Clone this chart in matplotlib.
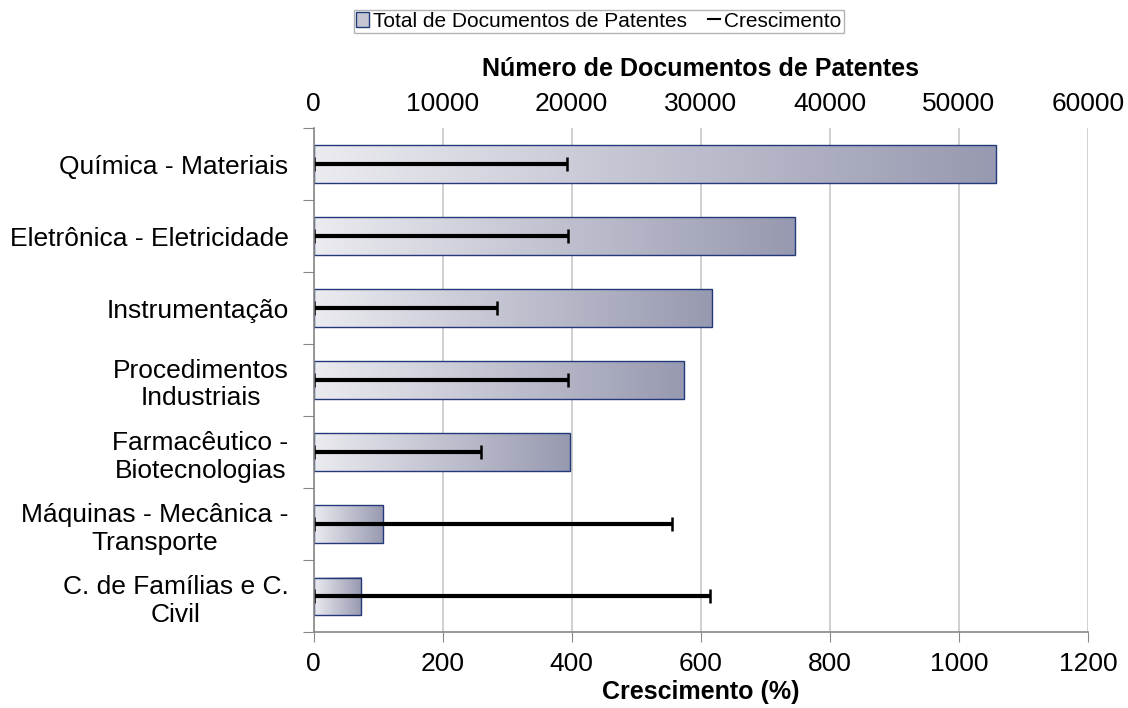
import numpy as np
import matplotlib
matplotlib.use("Agg")
import matplotlib.pyplot as plt
from matplotlib.patches import Patch, Rectangle
from matplotlib.lines import Line2D
from matplotlib.colors import LinearSegmentedColormap

plt.rcParams['font.family'] = ['Liberation Sans', 'DejaVu Sans']

# Data (top to bottom as in the chart)
categories = ["Química - Materiais", "Eletrônica - Eletricidade", "Instrumentação",
              "Procedimentos\nIndustriais", "Farmacêutico -\nBiotecnologias",
              "Máquinas - Mecânica -\nTransporte", "C. de Famílias e C.\nCivil"]
total_docs = [52900, 37300, 30900, 28700, 19900, 5350, 3650]
crescimento = [392, 394, 284, 394, 260, 555, 615]

n = len(categories)
ypos = np.arange(n)[::-1]  # first category on top
bar_h = 0.52

fig = plt.figure(figsize=(11.28, 7.08), dpi=100)
ax = fig.add_axes([0.278, 0.107, 0.6865, 0.712])
ax2 = ax.twiny()

# put the error bars axis above the bars axis
ax.set_zorder(ax2.get_zorder() + 1)
ax.patch.set_visible(False)

# gradient bars on the top (document count) axis
cmap = LinearSegmentedColormap.from_list("grad", ["#ebebf0", "#9799b0"])
grad = np.linspace(0, 1, 256).reshape(1, -1)
for y, v in zip(ypos, total_docs):
    ax2.imshow(grad, cmap=cmap, aspect='auto', extent=(0, v, y - bar_h / 2, y + bar_h / 2),
               zorder=2, interpolation='bilinear')
    ax2.add_patch(Rectangle((0, y - bar_h / 2), v, bar_h, fill=False,
                            edgecolor="#24397a", lw=1.0, zorder=3))

ax2.set_xlim(0, 60000)
ax2.set_xticks(np.arange(0, 60001, 10000))
ax2.xaxis.grid(True, color="#c8c8c8", lw=1.2)
ax2.set_axisbelow(True)
ax2.tick_params(axis='x', length=0, labelsize=19, pad=9)
ax2.set_xlabel("Número de Documentos de Patentes", fontsize=18, fontweight='bold', labelpad=11)
for s in ax2.spines.values():
    s.set_visible(False)

# growth as error bars from 0
ax.errorbar(np.zeros(n), ypos, xerr=[np.zeros(n), crescimento], fmt='none',
            ecolor='black', elinewidth=3, capsize=5, capthick=1.8)
ax.set_xlim(0, 1200)
ax.set_xticks(np.arange(0, 1201, 200))
ax.set_ylim(-0.5, n - 0.5)
ax2.set_ylim(-0.5, n - 0.5)
ax.tick_params(axis='x', direction='out', length=7, color="#888888", labelsize=19, pad=7)
ax.set_xlabel("Crescimento (%)", fontsize=18, fontweight='bold', labelpad=3)

# category boundaries as major ticks, labels at centers
ax.set_yticks(np.arange(-0.5, n, 1.0))
ax.set_yticklabels([])
ax.set_yticks(ypos, minor=True)
ax.set_yticklabels(categories, minor=True, fontsize=19)
ax.tick_params(axis='y', which='major', direction='out', length=8, color="#888888")
ax.tick_params(axis='y', which='minor', length=0, pad=18)
for lab in ax.get_yticklabels(minor=True):
    lab.set_multialignment('center')

for side in ('top', 'right'):
    ax.spines[side].set_visible(False)
for side in ('left', 'bottom'):
    ax.spines[side].set_color("#888888")
    ax.spines[side].set_linewidth(1.2)

handles = [Patch(facecolor="#c4c6d3", edgecolor="#24397a"),
           Line2D([], [], color='black', lw=1.5)]
leg = fig.legend(handles=handles, labels=["Total de Documentos de Patentes", "Crescimento"],
                 loc='center', bbox_to_anchor=(0.531, 0.970), ncol=2, fontsize=15,
                 frameon=True, fancybox=False, edgecolor="#a0a0a0", borderpad=0.1,
                 handlelength=0.6, handletextpad=0.2, columnspacing=1.0)
leg.get_frame().set_linewidth(1.0)

fig.savefig("out.png", dpi=100)
